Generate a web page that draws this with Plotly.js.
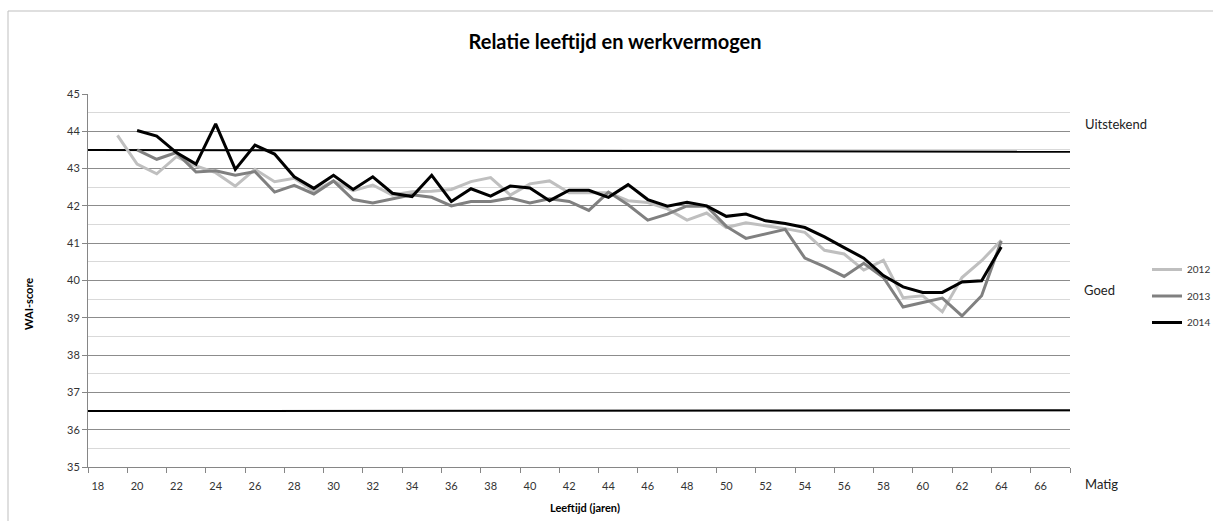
<!DOCTYPE html>
<html>
<head>
<meta charset="utf-8">
<script src="https://cdn.plot.ly/plotly-3.0.1.min.js"></script>
<style>html,body{margin:0;padding:0;background:#fff;}#chart{width:1213px;height:521px;}</style>
</head>
<body>
<div id="chart"></div>
<script>
// ---- data ----
const ages2012 = [19,20,21,22,23,24,25,26,27,28,29,30,31,32,33,34,35,36,37,38,39,40,41,42,43,44,45,46,47,48,49,50,51,52,53,54,55,56,57,58,59,60,61,62,63,64];
const wai2012 = [43.89,43.12,42.86,43.32,43.07,42.89,42.53,42.98,42.65,42.74,42.39,42.67,42.41,42.56,42.29,42.38,42.39,42.44,42.65,42.76,42.29,42.59,42.67,42.35,42.35,42.35,42.14,42.09,41.92,41.62,41.81,41.42,41.55,41.48,41.39,41.29,40.81,40.71,40.28,40.54,39.54,39.59,39.16,40.08,40.53,41.08];

const ages2013 = [20,21,22,23,24,25,26,27,28,29,30,31,32,33,34,35,36,37,38,39,40,41,42,43,44,45,46,47,48,49,50,51,52,53,54,55,56,57,58,59,60,61,62,63,64];
const wai2013 = [43.5,43.25,43.43,42.91,42.94,42.82,42.92,42.37,42.55,42.32,42.67,42.17,42.08,42.2,42.3,42.23,42.0,42.12,42.12,42.21,42.08,42.19,42.12,41.88,42.37,42.03,41.62,41.78,42.0,41.99,41.45,41.13,41.24,41.37,40.6,40.37,40.11,40.46,40.08,39.29,39.41,39.53,39.05,39.59,41.06];

const ages2014 = [20,21,22,23,24,25,26,27,28,29,30,31,32,33,34,35,36,37,38,39,40,41,42,43,44,45,46,47,48,49,50,51,52,53,54,55,56,57,58,59,60,61,62,63,64];
const wai2014 = [44.02,43.87,43.43,43.12,44.2,42.98,43.63,43.39,42.78,42.47,42.82,42.44,42.78,42.34,42.25,42.82,42.12,42.46,42.26,42.53,42.48,42.14,42.42,42.42,42.23,42.57,42.17,41.99,42.1,42.0,41.72,41.78,41.6,41.53,41.42,41.17,40.88,40.6,40.13,39.83,39.68,39.68,39.96,39.99,40.9];

// threshold lines (Uitstekend / Goed / Matig boundaries)
const refX = [17.5, 67.5];
const refHigh = [43.5, 43.45];
const refLow = [36.5, 36.52];

const xTickVals = [18,20,22,24,26,28,30,32,34,36,38,40,42,44,46,48,50,52,54,56,58,60,62,64,66];
const xTickText = ['18','20','22','24','26','28','30','32','34','36','38','40','42','44','46','48','50','52','54','56','58','60','62','64','66'];
const seriesNames = ['2012','2013','2014'];
const bandLabels = ['Uitstekend','Goed','Matig'];
const chartTitle = 'Relatie leeftijd en werkvermogen';
const xTitle = 'Leeftijd (jaren)';
const yTitle = 'WAI-score';

// ---- layout helpers ----
const W = 1213, H = 521;
const L = 88, R = 1070, T = 94, B = 467;
const px = x => (x - L) / (R - L);
const py = y => (B - y) / (B - T);
const FONT = 'Lato, "Open Sans", sans-serif';

const traces = [
  {x: refX, y: refHigh, mode: 'lines', line: {color: '#000', width: 2}, showlegend: false, hoverinfo: 'skip'},
  {x: refX, y: refLow, mode: 'lines', line: {color: '#000', width: 2}, showlegend: false, hoverinfo: 'skip'},
  {x: ages2012, y: wai2012, name: seriesNames[0], mode: 'lines', line: {color: '#bfbfbf', width: 3}, legendgroup: 'a'},
  {x: ages2013, y: wai2013, name: seriesNames[1], mode: 'lines', line: {color: '#808080', width: 3}, legendgroup: 'b'},
  {x: ages2014, y: wai2014, name: seriesNames[2], mode: 'lines', line: {color: '#000000', width: 3}, legendgroup: 'c'}
];

const layout = {
  width: W, height: H,
  margin: {l: L, r: W - R, t: T, b: H - B, pad: 0, autoexpand: false},
  paper_bgcolor: '#fff', plot_bgcolor: '#fff',
  font: {family: FONT, size: 11, color: '#333'},
  title: {text: chartTitle, x: 615 / W, xanchor: 'center', xref: 'container', y: 1 - 42 / H, yanchor: 'middle', yref: 'container',
          font: {family: FONT, size: 20, color: '#000', weight: 'bold'}},
  xaxis: {
    range: [17.5, 67.5], tickmode: 'array', tickvals: xTickVals, ticktext: xTickText,
    ticks: '', showgrid: false, zeroline: false, showline: true, linecolor: '#868686', linewidth: 1,
    ticklabelstandoff: 9,
    tickfont: {family: FONT, size: 11, color: '#333'},
    minor: {tick0: 17.5, dtick: 2, ticks: 'outside', ticklen: 5, tickcolor: '#868686', tickwidth: 1, showgrid: false},
    fixedrange: true
  },
  yaxis: {
    range: [35, 45], tick0: 35, dtick: 1, ticks: 'outside', ticklen: 5, tickcolor: '#868686',
    showline: true, linecolor: '#868686', linewidth: 1, zeroline: false,
    showgrid: true, gridcolor: '#8c8c8c', gridwidth: 1,
    minor: {tick0: 35, dtick: 0.5, showgrid: true, gridcolor: '#d9d9d9', gridwidth: 1, ticks: ''},
    tickfont: {family: FONT, size: 11, color: '#333'},
    fixedrange: true
  },
  showlegend: true,
  legend: {x: px(1147), xanchor: 'left', y: py(255), yanchor: 'top', bgcolor: 'rgba(0,0,0,0)',
           font: {family: FONT, size: 10, color: '#333'}, tracegroupgap: 7.5, traceorder: 'grouped'},
  shapes: [
    {type: 'rect', xref: 'paper', yref: 'paper', x0: px(8), x1: px(1240), y0: py(560), y1: py(11),
     line: {color: '#bfbfbf', width: 1}, fillcolor: 'rgba(0,0,0,0)', layer: 'below'}
  ],
  annotations: [
    {text: bandLabels[0], xref: 'paper', yref: 'paper', x: px(1083), y: py(124), xanchor: 'left', yanchor: 'middle', showarrow: false, font: {family: FONT, size: 13, color: '#222'}},
    {text: bandLabels[1], xref: 'paper', yref: 'paper', x: px(1082), y: py(290), xanchor: 'left', yanchor: 'middle', showarrow: false, font: {family: FONT, size: 13, color: '#222'}},
    {text: bandLabels[2], xref: 'paper', yref: 'paper', x: px(1083), y: py(484), xanchor: 'left', yanchor: 'middle', showarrow: false, font: {family: FONT, size: 13, color: '#222'}},
    {text: yTitle, xref: 'paper', yref: 'paper', x: px(28), y: py(304), xanchor: 'center', yanchor: 'middle', textangle: -90, showarrow: false, font: {family: FONT, size: 11, color: '#000', weight: 'bold'}},
    {text: xTitle, xref: 'paper', yref: 'paper', x: px(585), y: py(507), xanchor: 'center', yanchor: 'middle', showarrow: false, font: {family: FONT, size: 11, color: '#000', weight: 'bold'}}
  ]
};

Plotly.newPlot('chart', traces, layout, {displayModeBar: false, staticPlot: true});
</script>
</body>
</html>
